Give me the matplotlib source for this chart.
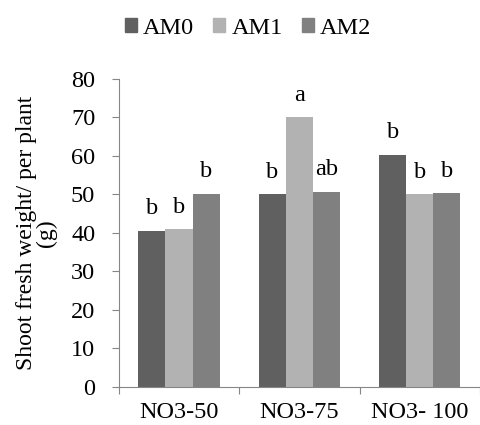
import numpy as np
import matplotlib
matplotlib.use("Agg")
import matplotlib.pyplot as plt
from matplotlib.patches import Patch

plt.rcParams['font.family'] = ['Liberation Serif', 'DejaVu Serif']

categories = ["NO3-50", "NO3-75", "NO3- 100"]
series_names = ["AM0", "AM1", "AM2"]
am0 = [40.6, 50.0, 60.3]
am1 = [40.9, 70.0, 50.0]
am2 = [50.1, 50.7, 50.3]
letters_am0 = ["b", "b", "b"]
letters_am1 = ["b", "a", "b"]
letters_am2 = ["b", "ab", "b"]

colors = ["#606060", "#b2b2b2", "#808080"]
axis_grey = "#868686"
fs = 17.5

fig = plt.figure(figsize=(4.81, 4.25), dpi=100)
ax = fig.add_axes([0.247, 0.0894, 0.751, 0.725])

x = np.arange(len(categories))
width = 0.225
values = [am0, am1, am2]
letters = [letters_am0, letters_am1, letters_am2]
for i, (vals, labs) in enumerate(zip(values, letters)):
    pos = x + (i - 1) * width
    ax.bar(pos, vals, width=width, color=colors[i], label=series_names[i])
    for px, v, t in zip(pos, vals, labs):
        ax.text(px, v + 4.3, t, ha="center", va="baseline", fontsize=fs)

ax.set_xlim(-0.5, 2.5)
ax.set_ylim(0, 80)
ax.set_yticks(range(0, 81, 10))
ax.tick_params(axis="y", labelsize=fs, length=5, color=axis_grey, pad=12)

# category boundary ticks on x, labels centred in between
ax.set_xticks([-0.5, 0.5, 1.5, 2.5])
ax.set_xticklabels([])
ax.set_xticks(x, minor=True)
ax.set_xticklabels(categories, minor=True, fontsize=fs)
ax.tick_params(axis="x", which="major", length=5, color=axis_grey)
ax.tick_params(axis="x", which="minor", length=0, pad=11)

for s in ["top", "right"]:
    ax.spines[s].set_visible(False)
for s in ["left", "bottom"]:
    ax.spines[s].set_color(axis_grey)

ax.set_ylabel("Shoot fresh weight/ per plant\n(g)", fontsize=17, labelpad=10,
              linespacing=0.95)

handles = [Patch(color=c, label=n) for c, n in zip(colors, series_names)]
fig.legend(handles=handles, loc="center", bbox_to_anchor=(0.516, 0.934), ncol=3,
           frameon=False, fontsize=fs, handlelength=0.5, handleheight=0.5,
           handletextpad=0.25, columnspacing=0.78)

fig.savefig("out.png", dpi=100)
